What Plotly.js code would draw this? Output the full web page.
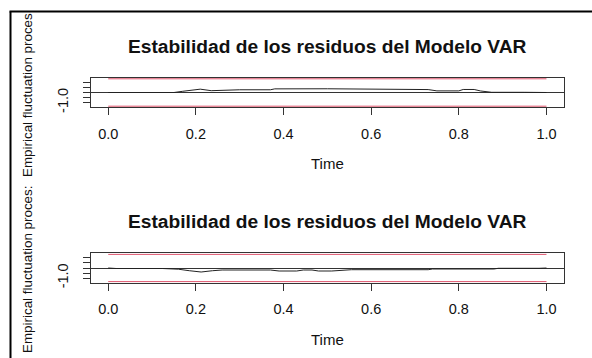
<!DOCTYPE html>
<html>
<head>
<meta charset="utf-8">
<script src="https://cdn.plot.ly/plotly-3.0.1.min.js"></script>
<style>html,body{margin:0;padding:0;background:#fff;}#chart{width:592px;height:358px;}</style>
</head>
<body>
<div id="chart"></div>
<script>
// ---- data (OLS-CUSUM style empirical fluctuation processes) ----
const chartTitle = "Estabilidad de los residuos del Modelo VAR";
const xLabel = "Time";
const yLabel1 = "Empirical fluctuation proces";
const yLabel2 = "Empirical fluctuation proces:";

const time1 = [0.00, 0.15, 0.17, 0.21, 0.235, 0.27, 0.30, 0.37, 0.38, 0.50, 0.66, 0.67, 0.73, 0.75, 0.80, 0.81, 0.835, 0.85, 0.875, 0.95, 1.00];
const proc1 = [0.00, 0.00, 0.12, 0.33, 0.18, 0.26, 0.27, 0.27, 0.36, 0.37, 0.36, 0.30, 0.29, 0.16, 0.16, 0.30, 0.30, 0.15, 0.02, 0.02, 0.00];

const time2 = [0.00, 0.018, 0.124, 0.16, 0.185, 0.212, 0.238, 0.26, 0.37, 0.39, 0.43, 0.445, 0.465, 0.48, 0.51, 0.52, 0.54, 0.555, 0.73, 0.74, 0.88, 0.89, 0.983, 1.00];
const proc2 = [0.00, -0.05, -0.05, -0.12, -0.27, -0.40, -0.27, -0.20, -0.20, -0.30, -0.30, -0.20, -0.20, -0.30, -0.30, -0.27, -0.27, -0.17, -0.17, -0.10, -0.10, -0.03, -0.03, 0.00];

const boundaryTime = [0, 1];
const boundary = 1.358;          // 5% critical boundary
const yLimit = 1.467;            // range(boundary) with 4% extension
const xTicks = [0, 0.2, 0.4, 0.6, 0.8, 1.0];
const yTicks = [-1, -0.5, 0, 0.5, 1];
const yTickText = ["-1.0", "", "", "", ""];

// ---- styling ----
const W = 592, H = 358;
const FONT = "Liberation Sans, Arial, sans-serif";
const RED = "#DF536B";
const INK = "#222222";
const px = v => v / W;
const py = v => 1 - v / H;

function xAxis(anchor) {
  return {
    anchor: anchor, domain: [px(90.7), px(564)], range: [-0.04, 1.04],
    tickvals: xTicks, tickformat: ".1f", ticks: "outside", ticklen: 7, tickwidth: 1, tickcolor: "#333",
    showline: true, mirror: true, linecolor: "#333", linewidth: 1,
    showgrid: false, zeroline: false, ticklabelstandoff: 6,
    tickfont: {family: FONT, size: 14.5, color: "#111"}, fixedrange: true
  };
}
function yAxis(anchor, top, bottom) {
  return {
    anchor: anchor, domain: [py(bottom), py(top)], range: [-yLimit, yLimit],
    tickvals: yTicks, ticktext: yTickText, tickangle: -90,
    ticks: "outside", ticklen: 7, tickwidth: 1, tickcolor: "#333",
    showline: true, mirror: true, linecolor: "#333", linewidth: 1,
    showgrid: false, zeroline: true, zerolinecolor: "#333", zerolinewidth: 1,
    ticklabelstandoff: 9,
    tickfont: {family: FONT, size: 14.5, color: "#111"}, fixedrange: true
  };
}

const traces = [];
[["x", "y", time1, proc1], ["x2", "y2", time2, proc2]].forEach(([xa, ya, t, p]) => {
  traces.push({x: boundaryTime, y: [boundary, boundary], xaxis: xa, yaxis: ya, mode: "lines", line: {color: RED, width: 1}, showlegend: false, hoverinfo: "skip"});
  traces.push({x: boundaryTime, y: [-boundary, -boundary], xaxis: xa, yaxis: ya, mode: "lines", line: {color: RED, width: 1}, showlegend: false, hoverinfo: "skip"});
  traces.push({x: t, y: p, xaxis: xa, yaxis: ya, mode: "lines", line: {color: INK, width: 1}, showlegend: false, hoverinfo: "skip"});
});

const ann = (text, x, y, size, bold, angle) => ({
  text: bold ? "<b>" + text + "</b>" : text, xref: "paper", yref: "paper", x: x, y: y,
  xanchor: "center", yanchor: "middle", showarrow: false, textangle: angle || 0,
  font: {family: FONT, size: size, color: "#111"}
});

const layout = {
  width: W, height: H, margin: {l: 0, r: 0, t: 0, b: 0},
  paper_bgcolor: "#fff", plot_bgcolor: "#fff", showlegend: false,
  xaxis: xAxis("y"), yaxis: yAxis("x", 77.7, 107.3),
  xaxis2: xAxis("y2"), yaxis2: yAxis("x2", 253.3, 282.7),
  annotations: [
    ann(chartTitle, px(327.4), py(46), 19.2, true),
    ann(chartTitle, px(327.4), py(222), 19.2, true),
    ann(xLabel, px(327.4), py(163), 15, false),
    ann(xLabel, px(327.4), py(339), 15, false),
    ann(yLabel1, px(27), py(95), 13.4, false, -90),
    ann(yLabel2, px(27), py(270), 13.4, false, -90)
  ],
  shapes: [
    {type: "line", xref: "paper", yref: "paper", x0: px(10.5), x1: px(10.5), y0: 0, y1: py(11.5), line: {color: "#000", width: 2}},
    {type: "line", xref: "paper", yref: "paper", x0: px(9.5), x1: 1, y0: py(11.5), y1: py(11.5), line: {color: "#000", width: 2}}
  ]
};

Plotly.newPlot("chart", traces, layout, {staticPlot: true, displayModeBar: false});
</script>
</body>
</html>
